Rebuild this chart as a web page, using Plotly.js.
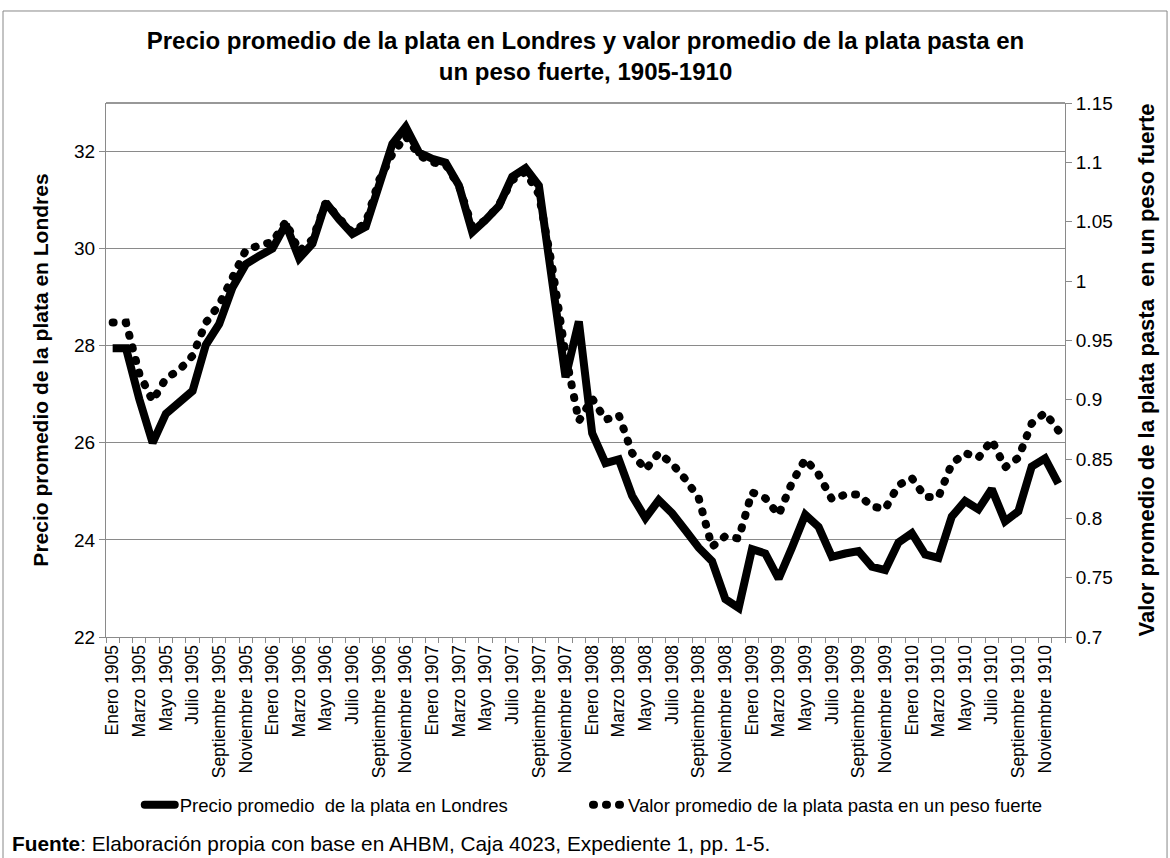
<!DOCTYPE html>
<html>
<head>
<meta charset="utf-8">
<script src="https://cdn.plot.ly/plotly-3.0.1.min.js"></script>
<style>
  html, body { margin: 0; padding: 0; background: #ffffff; }
  #chart { width: 1170px; height: 858px; }
</style>
</head>
<body>
<div id="chart"></div>
<script>
// ---- Data ----
const monthNames = ["Enero", "Febrero", "Marzo", "Abril", "Mayo", "Junio", "Julio", "Agosto", "Septiembre", "Octubre", "Noviembre", "Diciembre"];
const years = [1905, 1906, 1907, 1908, 1909, 1910];

// Precio promedio de la plata en Londres (left axis)
const precioLondres = [
  27.95, 27.95, 26.90, 26.00, 26.60, 26.82, 27.07, 28.02, 28.45, 29.20, 29.68, 29.85,
  30.00, 30.50, 29.80, 30.10, 30.95, 30.60, 30.30, 30.45, 31.37, 32.16, 32.51, 31.98,
  31.85, 31.77, 31.30, 30.34, 30.59, 30.88, 31.48, 31.66, 31.30, 29.30, 27.35, 28.50,
  26.20, 25.58, 25.66, 24.91, 24.45, 24.82, 24.55, 24.20, 23.84, 23.56, 22.78, 22.60,
  23.81, 23.72, 23.20, 23.84, 24.52, 24.27, 23.65, 23.72, 23.77, 23.45, 23.38, 23.95,
  24.14, 23.70, 23.63, 24.48, 24.80, 24.63, 25.05, 24.38, 24.59, 25.51, 25.68, 25.16
];

// Valor promedio de la plata pasta en un peso fuerte (right axis)
const valorPesoFuerte = [
  0.965, 0.965, 0.922, 0.899, 0.918, 0.925, 0.937, 0.965, 0.980, 1.002, 1.026, 1.030,
  1.033, 1.050, 1.025, 1.035, 1.066, 1.053, 1.041, 1.049, 1.085, 1.107, 1.122, 1.106,
  1.100, 1.098, 1.080, 1.046, 1.051, 1.064, 1.085, 1.092, 1.073, 1.012, 0.938, 0.882,
  0.901, 0.883, 0.887, 0.855, 0.841, 0.855, 0.846, 0.833, 0.817, 0.776, 0.785, 0.783,
  0.822, 0.817, 0.803, 0.830, 0.850, 0.837, 0.816, 0.820, 0.820, 0.810, 0.808, 0.828,
  0.834, 0.818, 0.818, 0.846, 0.855, 0.851, 0.866, 0.843, 0.851, 0.880, 0.889, 0.874
];

const seriesNames = ["Precio promedio  de la plata en Londres", "Valor promedio de la plata pasta en un peso fuerte"];
const titleText = "Precio promedio de la plata en Londres y valor promedio de la plata pasta en<br>un peso fuerte, 1905-1910";
const yTitleLeft = "Precio promedio de la plata en Londres";
const yTitleRight = "Valor promedio de la plata pasta \u00A0en un peso fuerte";
const sourceText = "<b>Fuente</b>: Elaboración propia con base en AHBM, Caja 4023, Expediente 1, pp. 1-5.";

// categories built from month names and years
const months = [];
years.forEach(y => monthNames.forEach(m => months.push(m + " " + y)));
const tickText = months.map((m, i) => (i % 2 === 0 ? m : ""));

// ---- Chart ----
const FONT = "Liberation Sans, Arial, sans-serif";
const GRID = "#8a8a8a";

const data = [
  {
    type: "scatter", mode: "lines", name: seriesNames[0], legend: "legend",
    x: months, y: precioLondres, yaxis: "y",
    line: { color: "#000000", width: 8 }
  },
  {
    type: "scatter", mode: "lines", name: seriesNames[1], legend: "legend2",
    x: months, y: valorPesoFuerte, yaxis: "y2",
    line: { color: "#000000", width: 8, dash: "1px,12px" }
  }
];

const legendBase = {
  orientation: "h", xanchor: "left", y: -0.315, yanchor: "middle",
  font: { family: FONT, size: 18.5, color: "#000000" },
  bgcolor: "rgba(0,0,0,0)", itemwidth: 30
};

const layout = {
  width: 1170, height: 858,
  paper_bgcolor: "#ffffff", plot_bgcolor: "#ffffff",
  margin: { l: 106, r: 105, t: 103, b: 221, autoexpand: false },
  font: { family: FONT, color: "#000000", size: 19 },
  title: {
    text: "<b>" + titleText + "</b>",
    font: { family: FONT, size: 24, color: "#000000" },
    x: 0.5, xref: "paper", xanchor: "center",
    y: 0.943, yref: "container", yanchor: "top"
  },
  showlegend: true,
  legend: Object.assign({}, legendBase, { x: 0.0352 }),
  legend2: Object.assign({}, legendBase, { x: 0.5026 }),
  xaxis: {
    type: "category", range: [-0.5, 71.5],
    tickvals: months, ticktext: tickText, tickson: "boundaries",
    ticks: "outside", ticklen: 5, tickcolor: GRID, tickangle: -90,
    tickfont: { family: FONT, size: 17.5, color: "#000000" },
    showgrid: false, showline: true, linecolor: GRID, linewidth: 1, zeroline: false
  },
  yaxis: {
    range: [22, 33], tick0: 22, dtick: 2,
    ticks: "outside", ticklen: 6, tickcolor: GRID,
    tickfont: { family: FONT, size: 19, color: "#000000" },
    showgrid: true, gridcolor: GRID, gridwidth: 1,
    showline: true, linecolor: GRID, linewidth: 1, zeroline: false,
    title: { text: "<b>" + yTitleLeft + "</b>", font: { family: FONT, size: 21, color: "#000000" }, standoff: 19 }
  },
  yaxis2: {
    overlaying: "y", side: "right", range: [0.7, 1.15], tick0: 0.7, dtick: 0.05,
    ticks: "outside", ticklen: 6, tickcolor: GRID,
    tickfont: { family: FONT, size: 19, color: "#000000" },
    showgrid: false, showline: true, linecolor: GRID, linewidth: 1, zeroline: false,
    title: { text: "<b>" + yTitleRight + "</b>", font: { family: FONT, size: 22, color: "#000000" }, standoff: 26 }
  },
  shapes: [
    { type: "line", xref: "paper", yref: "paper", x0: 0, x1: 1, y0: 1, y1: 1, line: { color: "#333333", width: 1.2 } },
    { type: "rect", xref: "paper", yref: "paper", x0: -0.1074, x1: 1.1064, y0: -0.44, y1: 1.1723, line: { color: "#888888", width: 1 }, layer: "below" }
  ],
  annotations: [
    { text: sourceText, xref: "paper", yref: "paper", x: -0.1001, y: -0.386, xanchor: "left", yanchor: "middle", showarrow: false, font: { family: FONT, size: 20.8, color: "#000000" } }
  ]
};

Plotly.newPlot("chart", data, layout, { displayModeBar: false, staticPlot: true }).then(function (gd) {
  // round dots for the dotted series (and its legend sample)
  const traces = gd.querySelectorAll(".scatterlayer .trace");
  if (traces[1]) traces[1].querySelectorAll("path.js-line").forEach(p => p.style.strokeLinecap = "round");
  gd.querySelectorAll(".infolayer .traces path").forEach(p => p.style.strokeLinecap = "round");
});
</script>
</body>
</html>
